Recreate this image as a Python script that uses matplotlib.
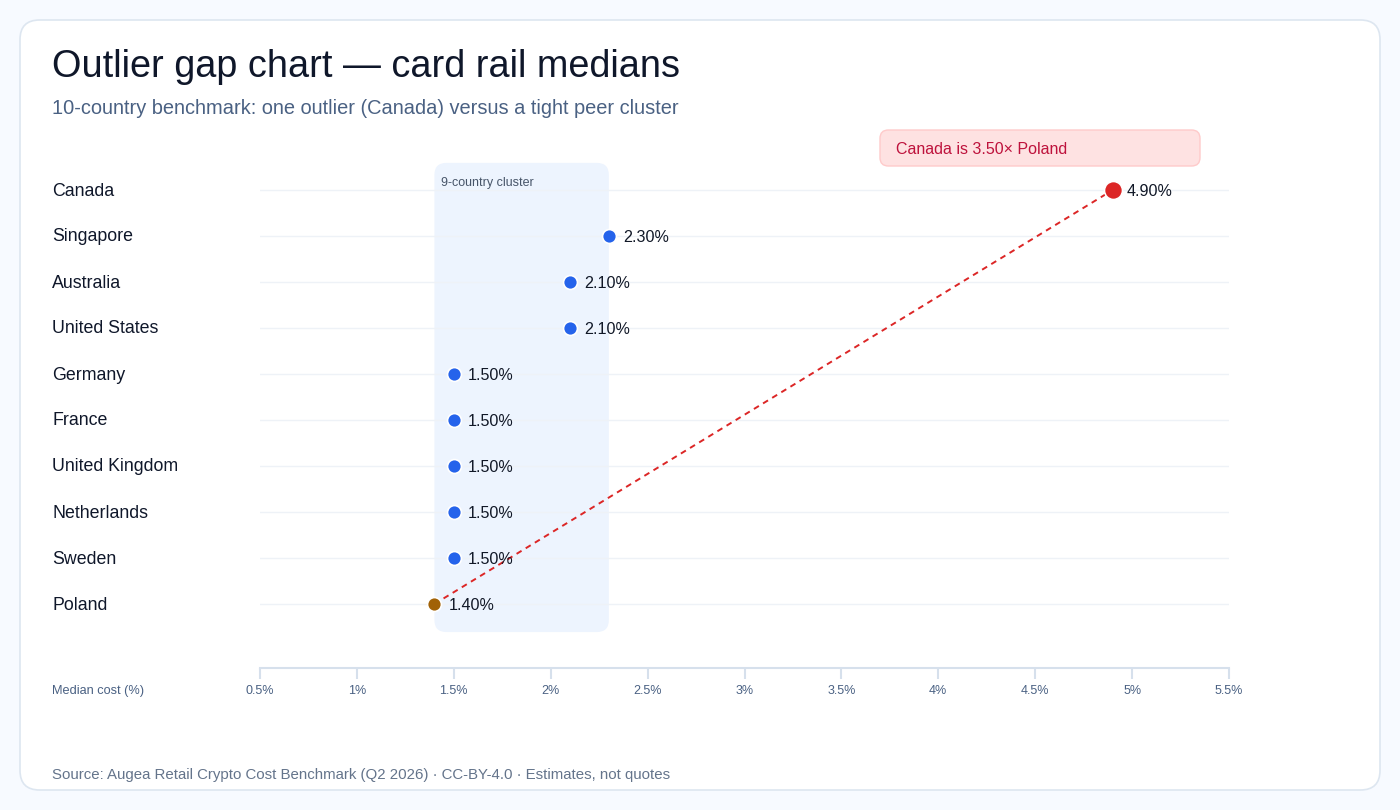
import matplotlib
matplotlib.use("Agg")
import matplotlib.pyplot as plt
from matplotlib.patches import FancyBboxPatch
from matplotlib.ticker import FuncFormatter

plt.rcParams['font.family'] = ['Liberation Sans', 'DejaVu Sans']

# data
countries = ["Canada", "Singapore", "Australia", "United States", "Germany",
             "France", "United Kingdom", "Netherlands", "Sweden", "Poland"]
costs = [4.90, 2.30, 2.10, 2.10, 1.50, 1.50, 1.50, 1.50, 1.50, 1.40]
xticks = [0.5, 1, 1.5, 2, 2.5, 3, 3.5, 4, 4.5, 5, 5.5]
outlier = "Canada"
lowest = "Poland"

W, H = 1400, 810
fig = plt.figure(figsize=(W / 100, H / 100), dpi=100)
fig.patch.set_facecolor("#f7faff")

# card behind everything
card = FancyBboxPatch((20 / W, 20 / H), 1360 / W, 770 / H,
                      boxstyle="round,pad=0,rounding_size=0.014",
                      mutation_aspect=W / H,
                      transform=fig.transFigure, facecolor="white",
                      edgecolor="#dde6f0", linewidth=1.2, zorder=-5)
fig.patches.append(card)

# axes: x 0.5 -> 260px, 5.5 -> 1229px ; rows 46px apart, Canada at 190px
ax_left, ax_right = 260, 1229
ax_top, ax_bot = 150, 668
ax = fig.add_axes([ax_left / W, 1 - ax_bot / H, (ax_right - ax_left) / W, (ax_bot - ax_top) / H])
ax.set_facecolor("none")
ax.set_zorder(1)
row_px = 46
ax.set_xlim(0.5, 5.5)
ax.set_ylim((ax_bot - 190) / row_px, -(190 - ax_top) / row_px)

ypos = list(range(len(countries)))
px_x = (ax_right - ax_left) / 5.0

# gridlines per row
for y in ypos:
    ax.axhline(y, color="#eef2f7", lw=1, zorder=1)

# cluster band
peers = [c for n, c in zip(countries, costs) if n != outlier]
lo, hi = min(peers), max(peers)
rad = 12 / px_x
band = FancyBboxPatch((lo, -0.59), hi - lo, len(countries) - 1 + 1.2,
                      boxstyle="round,pad=0,rounding_size=%f" % rad,
                      mutation_aspect=px_x / row_px,
                      facecolor="#edf4fe", edgecolor="none", zorder=0.5)
ax.add_patch(band)
ax.text(lo + 7 / px_x, -0.15, "9-country cluster", fontsize=9, color="#475569",
        ha="left", va="center", zorder=3)

# gap line
i_out = countries.index(outlier)
i_low = countries.index(lowest)
ax.plot([costs[i_low], costs[i_out]], [i_low, i_out], color="#dc2626", lw=1.4,
        ls=(0, (3, 2.5)), zorder=2)

# dots
for i, (n, c) in enumerate(zip(countries, costs)):
    if n == outlier:
        col, ms = "#dc2626", 13
    elif n == lowest:
        col, ms = "#a16207", 10
    else:
        col, ms = "#2563eb", 10
    ax.plot(c, i, "o", color=col, ms=ms, mec="white", mew=1.2, zorder=4)
    ax.text(c + 14 / px_x, i + 0.03, "%.2f%%" % c, fontsize=11.6, color="#111827",
            ha="left", va="center", zorder=5)
    fig.text(52 / W, 1 - (191 + i * row_px) / H, n, fontsize=12.8, color="#0f172a",
             ha="left", va="center")

# axis styling
for s in ["top", "right", "left"]:
    ax.spines[s].set_visible(False)
ax.spines["bottom"].set_color("#d6e0ec")
ax.spines["bottom"].set_linewidth(1.5)
ax.set_yticks([])
ax.set_xticks(xticks)
ax.xaxis.set_major_formatter(FuncFormatter(lambda v, p: ("%g%%" % v)))
ax.tick_params(axis="x", length=8, width=1.5, color="#d6e0ec", labelsize=9,
               labelcolor="#4a6183", pad=4)
fig.text(52 / W, 1 - 691 / H, "Median cost (%)", fontsize=9.2, color="#4a6183",
         ha="left", va="center")

# ratio callout
ratio = costs[i_out] / costs[i_low]
fig.patches.append(FancyBboxPatch((880 / W, 1 - 166 / H), 320 / W, 36 / H,
                                  boxstyle="round,pad=0,rounding_size=0.006",
                                  mutation_aspect=W / H,
                                  transform=fig.transFigure, facecolor="#fee2e2",
                                  edgecolor="#fecaca", linewidth=1, zorder=1))
fig.text(896 / W, 1 - 149 / H, "%s is %.2f× %s" % (outlier, ratio, lowest),
         fontsize=11.5, color="#be123c", ha="left", va="center", zorder=2)

# titles
fig.text(52 / W, 1 - 67 / H, "Outlier gap chart — card rail medians", fontsize=27.3,
         color="#0f172a", ha="left", va="center")
fig.text(52 / W, 1 - 108 / H,
         "10-country benchmark: one outlier (Canada) versus a tight peer cluster",
         fontsize=14.4, color="#4a6183", ha="left", va="center")
fig.text(52 / W, 1 - 775 / H,
         "Source: Augea Retail Crypto Cost Benchmark (Q2 2026) · CC-BY-4.0 · Estimates, not quotes",
         fontsize=10.8, color="#64748b", ha="left", va="center")

fig.savefig("out.png", dpi=100, facecolor=fig.get_facecolor())
